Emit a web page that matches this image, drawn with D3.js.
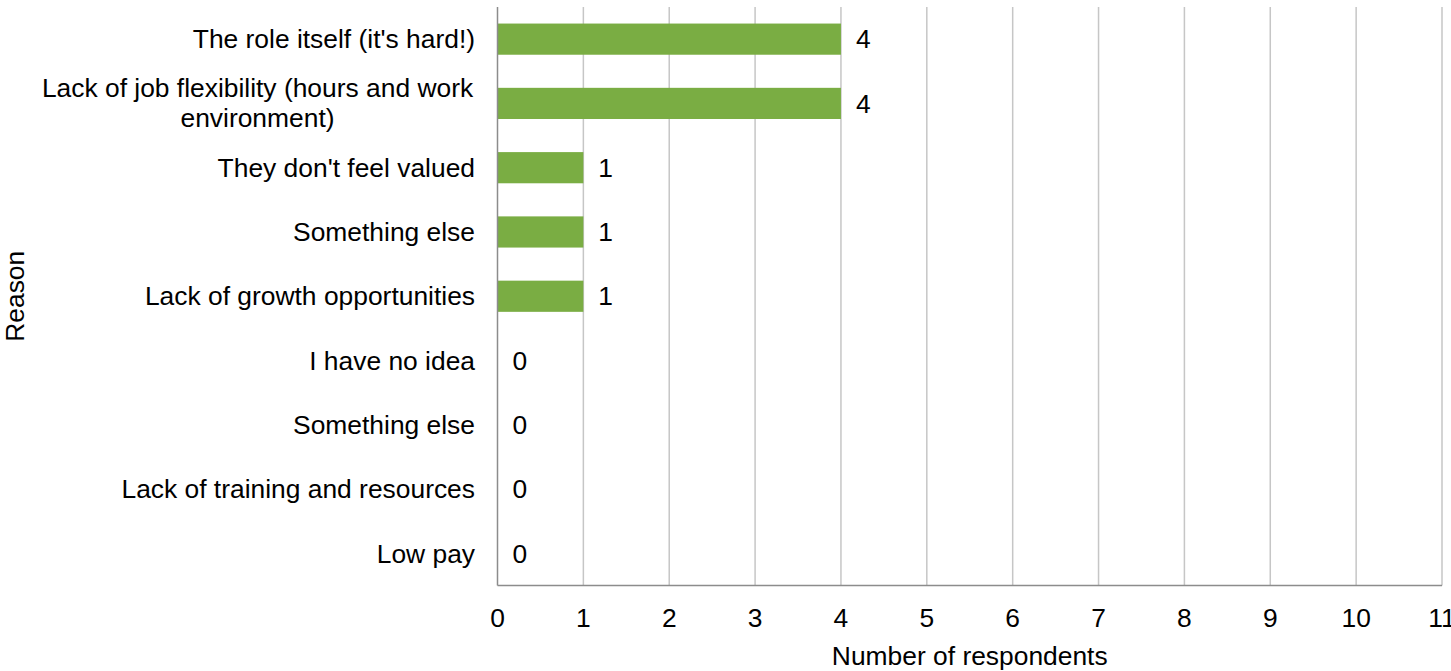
<!DOCTYPE html>
<html>
  <head>
    <meta charset="utf-8">
    <title>Reasons</title>
    <script src="https://cdn.jsdelivr.net/npm/d3@7"></script>
    <style>
      body { margin: 0; background: #fff; }
      text { font-family: "Liberation Sans", Arial, sans-serif; fill: #000; }
    </style>
  </head>
  <body>
<svg width="1451" height="671"></svg>
<script>
var reasons = ["The role itself (it's hard!)",
  "Lack of job flexibility (hours and work|environment)",
  "They don't feel valued", "Something else", "Lack of growth opportunities",
  "I have no idea", "Something else", "Lack of training and resources", "Low pay"];
var counts = [4, 4, 1, 1, 1, 0, 0, 0, 0];
var xTicks = [0, 1, 2, 3, 4, 5, 6, 7, 8, 9, 10, 11];

var svg = d3.select('svg');
var fs = 26.4;
var m = { left: 497.5, right: 1442, top: 7, bottom: 585.5 };

var x = d3.scaleLinear().domain([0, 11]).range([m.left, m.right]);
var y = d3.scaleBand().domain(d3.range(reasons.length)).range([m.top, m.bottom])
  .paddingInner(0.515).paddingOuter(0.2575);

// gridlines
svg.append('g').selectAll('line').data(xTicks.slice(1))
  .enter().append('line')
    .attr('x1', function (d) { return x(d); })
    .attr('x2', function (d) { return x(d); })
    .attr('y1', m.top).attr('y2', m.bottom)
    .attr('stroke', '#c6c6c6').attr('stroke-width', 1.5);

// bars
svg.append('g').selectAll('rect').data(counts)
  .enter().append('rect')
    .attr('x', x(0))
    .attr('y', function (d, i) { return y(i); })
    .attr('width', function (d) { return x(d) - x(0); })
    .attr('height', y.bandwidth())
    .attr('fill', '#7aad43');

// axis lines
svg.append('line').attr('x1', m.left).attr('x2', m.left).attr('y1', m.top).attr('y2', m.bottom)
  .attr('stroke', '#8c8c8c').attr('stroke-width', 1.5);
svg.append('line').attr('x1', m.left).attr('x2', m.right).attr('y1', m.bottom).attr('y2', m.bottom)
  .attr('stroke', '#8c8c8c').attr('stroke-width', 1.5);

// value labels
svg.append('g').selectAll('text').data(counts)
  .enter().append('text')
    .attr('x', function (d) { return x(d) + 15; })
    .attr('y', function (d, i) { return y(i) + y.bandwidth() / 2; })
    .attr('dy', '0.35em')
    .attr('font-size', fs)
    .text(function (d) { return d; });

// x tick labels
svg.append('g').selectAll('text').data(xTicks)
  .enter().append('text')
    .attr('x', function (d) { return x(d); })
    .attr('y', 617.5)
    .attr('dy', '0.35em')
    .attr('text-anchor', 'middle')
    .attr('font-size', fs)
    .text(function (d) { return d; });

// category labels
var cat = svg.append('g').selectAll('text').data(reasons)
  .enter().append('text')
    .attr('font-size', fs)
    .attr('text-anchor', 'end')
    .attr('y', function (d, i) { return y(i) + y.bandwidth() / 2; });

cat.each(function (d) {
  var parts = d.split('|');
  var t = d3.select(this);
  if (parts.length === 1) {
    t.append('tspan').attr('x', 475).attr('dy', '0.35em').text(d);
  } else {
    t.attr('text-anchor', 'middle');
    t.append('tspan').attr('x', 257.5).attr('dy', '-0.24em').text(parts[0]);
    t.append('tspan').attr('x', 257.5).attr('dy', '1.15em').text(parts[1]);
  }
});

// axis titles
svg.append('text')
  .attr('x', (m.left + m.right) / 2).attr('y', 656).attr('dy', '0.35em')
  .attr('text-anchor', 'middle').attr('font-size', fs)
  .text('Number of respondents');

svg.append('text')
  .attr('transform', 'translate(15,' + ((m.top + m.bottom) / 2) + ') rotate(-90)')
  .attr('dy', '0.35em')
  .attr('text-anchor', 'middle').attr('font-size', fs)
  .text('Reason');
</script>
</body>
</html>
